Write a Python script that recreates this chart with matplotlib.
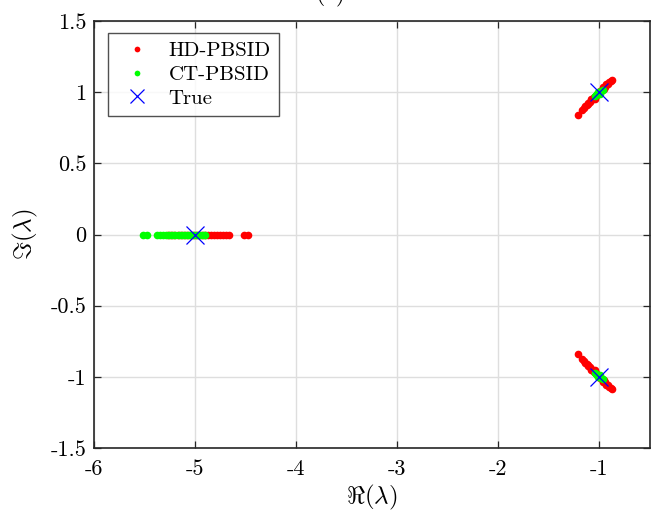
import matplotlib
matplotlib.use('Agg')
import matplotlib.pyplot as plt
import numpy as np

plt.rcParams['font.family'] = 'serif'
plt.rcParams['font.serif'] = ['cmr10']
plt.rcParams['mathtext.fontset'] = 'cm'
plt.rcParams['axes.unicode_minus'] = False

# HD-PBSID estimates (red)
hd_real_re = [-5.26, -5.23, -5.20, -5.17, -5.14, -5.11, -5.08, -5.05, -5.02, -4.99,
              -4.96, -4.93, -4.90, -4.87, -4.84, -4.81, -4.78, -4.75, -4.72, -4.69,
              -4.665, -4.51, -4.47]
hd_real_im = [0.0] * len(hd_real_re)

hd_up_re = [-1.205, -1.17, -1.155, -1.14, -1.125, -1.11, -1.095, -1.08, -1.065, -1.05,
            -1.035, -1.02, -1.005, -0.99, -0.975, -0.96, -0.945, -0.93, -0.915, -0.90,
            -0.885, -0.872, -1.08, -1.045, -0.965, -0.95, -1.11, -0.93]
hd_up_im = [0.838, 0.878, 0.886, 0.902, 0.908, 0.925, 0.930, 0.946, 0.950, 0.967,
            0.972, 0.989, 0.993, 1.010, 1.015, 1.032, 1.036, 1.052, 1.058, 1.073,
            1.079, 1.083, 0.955, 0.952, 1.040, 1.022, 0.915, 1.060]
hd_lo_re = [-1.205, -1.17, -1.155, -1.14, -1.125, -1.11, -1.095, -1.08, -1.065, -1.05,
            -1.035, -1.02, -1.005, -0.99, -0.975, -0.96, -0.945, -0.93, -0.915, -0.90,
            -0.885, -0.872, -1.08, -1.045, -0.965, -0.95, -1.11, -0.93]
hd_lo_im = [-0.838, -0.878, -0.886, -0.902, -0.908, -0.925, -0.930, -0.946, -0.950, -0.967,
            -0.972, -0.989, -0.993, -1.010, -1.015, -1.032, -1.036, -1.052, -1.058, -1.073,
            -1.079, -1.083, -0.955, -0.952, -1.040, -1.022, -0.915, -1.060]

# CT-PBSID estimates (green)
ct_real_re = [-5.51, -5.47, -5.37, -5.34, -5.31, -5.28, -5.25, -5.22, -5.19, -5.16,
              -5.13, -5.10, -5.07, -5.04, -5.01, -4.98, -4.95, -4.92, -4.90]
ct_real_im = [0.0] * len(ct_real_re)
ct_up_re = [-1.045, -1.03, -1.02, -1.01, -1.0, -0.99, -0.98, -0.965, -1.01, -0.99]
ct_up_im = [0.972, 0.980, 0.986, 0.990, 0.995, 1.000, 1.008, 1.018, 1.002, 0.988]
ct_lo_re = [-1.045, -1.03, -1.02, -1.01, -1.0, -0.99, -0.98, -0.965, -1.01, -0.99]
ct_lo_im = [-0.972, -0.980, -0.986, -0.990, -0.995, -1.000, -1.008, -1.018, -1.002, -0.988]

# true eigenvalues
true_re = [-5, -1, -1]
true_im = [0, 1, -1]

xticks = [-6, -5, -4, -3, -2, -1]
xtick_labels = ['-6', '-5', '-4', '-3', '-2', '-1']
yticks = [-1.5, -1, -0.5, 0, 0.5, 1, 1.5]
ytick_labels = ['-1.5', '-1', '-0.5', '0', '0.5', '1', '1.5']

fig = plt.figure(figsize=(6.59, 5.16), dpi=100)
ax = fig.add_axes([0.142, 0.132, 0.844, 0.827])

ms = 5.5
ax.plot(hd_real_re + hd_up_re + hd_lo_re, hd_real_im + hd_up_im + hd_lo_im,
        'o', color='#ff0000', markersize=ms, markeredgewidth=0, label='HD-PBSID')
ax.plot(ct_real_re + ct_up_re + ct_lo_re, ct_real_im + ct_up_im + ct_lo_im,
        'o', color='#00ff00', markersize=ms, markeredgewidth=0, label='CT-PBSID')
ax.plot(true_re, true_im, 'x', color='#0000ff', markersize=13, markeredgewidth=0.9,
        linestyle='none', label='True')

ax.set_xlim(-6, -0.5)
ax.set_ylim(-1.5, 1.5)
ax.set_xticks(xticks)
ax.set_xticklabels(xtick_labels)
ax.set_yticks(yticks)
ax.set_yticklabels(ytick_labels)
ax.tick_params(direction='in', top=True, right=True, labelsize=16, length=5,
               width=0.9, color='#262626')
ax.tick_params(axis='x', pad=8)
ax.tick_params(axis='y', pad=5)
ax.grid(True, color='#dedede', linewidth=1.0)
ax.set_axisbelow(True)
for s in ax.spines.values():
    s.set_linewidth(1.2)
    s.set_color('#262626')

ax.set_xlabel(r'$\Re(\lambda)$', fontsize=18, labelpad=3)
ax.set_ylabel(r'$\Im(\lambda)$', fontsize=18, labelpad=8)

leg = ax.legend(loc='upper left', bbox_to_anchor=(0.026, 0.972), borderaxespad=0,
                fontsize=15, frameon=True, fancybox=False, edgecolor='#262626',
                handletextpad=0.5, borderpad=0.4, labelspacing=0.25, markerscale=0.75)
leg.get_frame().set_linewidth(1.0)

fig.text(0.502, 0.999, '(a)', fontsize=17, ha='center', va='baseline')

fig.savefig('out.png', dpi=100)
